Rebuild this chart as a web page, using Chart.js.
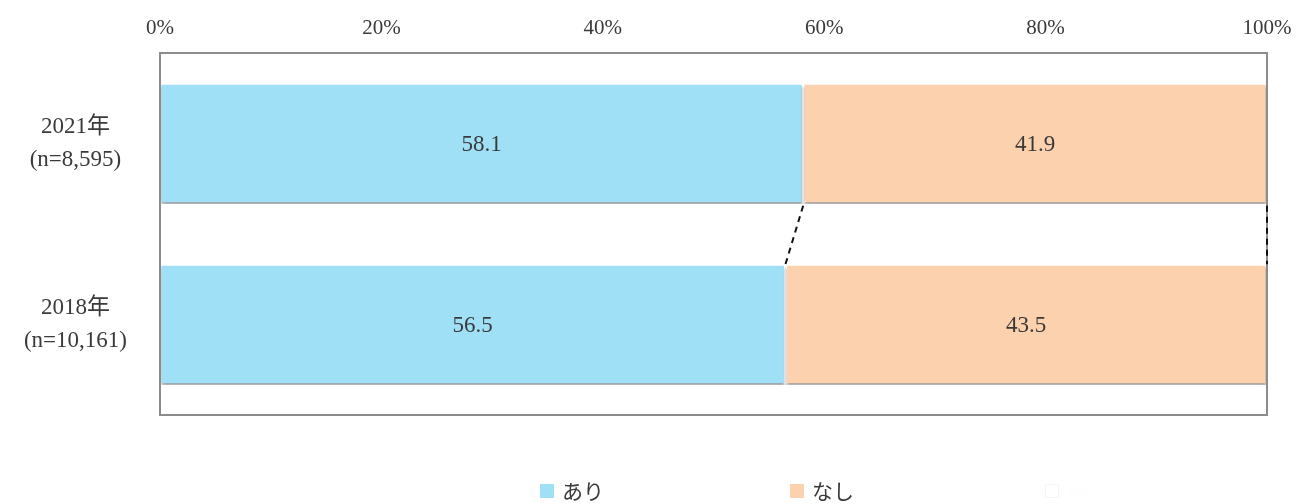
<!DOCTYPE html>
<html lang="ja">
<head>
<meta charset="utf-8">
<script src="https://cdn.jsdelivr.net/npm/chart.js@4.4.1/dist/chart.umd.min.js"></script>
<style>
  html, body { margin: 0; padding: 0; background: #fff; }
  #wrap { width: 1297px; height: 504px; }
</style>
</head>
<body>
<div id="wrap"><canvas id="chart" width="1297" height="504"></canvas></div>
<script>
// ===============================
// Data
// ===============================
const years = [["2021年", "(n=8,595)"], ["2018年", "(n=10,161)"]];
const ari = [58.1, 56.5];      // あり
const nashi = [41.9, 43.5];    // なし
const noAnswer = [0, 0];       // 無回答 (white, not visible)
const seriesNames = ["あり", "なし", "無回答"];

const serif = '"Liberation Serif", "Noto Sans CJK JP", serif';
const textColor = "#3a3a3a";

// ===============================
// Plugins
// ===============================
const barShadow = {
  id: "barShadow",
  beforeDatasetDraw(chart) {
    const ctx = chart.ctx;
    ctx.save();
    ctx.shadowColor = "rgba(0,0,0,0.4)";
    ctx.shadowOffsetY = 3;
    ctx.shadowBlur = 2;
  },
  afterDatasetDraw(chart) {
    chart.ctx.restore();
  },
};

const frameAndLabels = {
  id: "frameAndLabels",
  afterDatasetsDraw(chart) {
    const ctx = chart.ctx;
    const area = chart.chartArea;
    const xScale = chart.scales.x;

    // plot frame
    ctx.save();
    ctx.strokeStyle = "#8c8c8c";
    ctx.lineWidth = 2;
    ctx.strokeRect(area.left, area.top, area.right - area.left, area.bottom - area.top);
    ctx.restore();

    // dashed series lines between bars
    const m0 = chart.getDatasetMeta(0).data;
    const m1 = chart.getDatasetMeta(1).data;
    ctx.save();
    ctx.strokeStyle = "#111";
    ctx.lineWidth = 2;
    ctx.setLineDash([6, 5]);
    const cums = [
      [ari[0], ari[1]],
      [ari[0] + nashi[0], ari[1] + nashi[1]],
    ];
    cums.forEach((c) => {
      const top = m0[0].getProps(["y", "height"]);
      const bot = m0[1].getProps(["y", "height"]);
      ctx.beginPath();
      ctx.moveTo(xScale.getPixelForValue(c[0]), top.y + top.height / 2 + 2);
      ctx.lineTo(xScale.getPixelForValue(c[1]), bot.y - bot.height / 2);
      ctx.stroke();
    });
    ctx.restore();

    // value labels
    ctx.save();
    ctx.font = "23px " + serif;
    ctx.fillStyle = textColor;
    ctx.textAlign = "center";
    ctx.textBaseline = "middle";
    [m0, m1].forEach((meta, di) => {
      const vals = di === 0 ? ari : nashi;
      meta.forEach((bar, i) => {
        const p = bar.getCenterPoint();
        ctx.fillText(vals[i].toFixed(1), p.x, p.y + 1);
      });
    });
    ctx.restore();
  },
};

const customLegend = {
  id: "customLegend",
  afterDraw(chart, args, opts) {
    const ctx = chart.ctx;
    ctx.save();
    ctx.font = "21px " + '"Noto Sans CJK JP", sans-serif';
    ctx.textBaseline = "middle";
    ctx.textAlign = "left";
    chart.data.datasets.forEach((ds, i) => {
      const x = opts.xs[i];
      const y = opts.y;
      ctx.fillStyle = ds.backgroundColor;
      ctx.fillRect(x, y - 7, 14, 14);
      if (ds.legendBorder) {
        ctx.strokeStyle = ds.legendBorder;
        ctx.lineWidth = 1;
        ctx.strokeRect(x + 0.5, y - 6.5, 13, 13);
      }
      ctx.fillStyle = ds.legendText || textColor;
      ctx.fillText(ds.label, x + 22, y);
    });
    ctx.restore();
  },
};

// ===============================
// Chart
// ===============================
const ctx = document.getElementById("chart").getContext("2d");

new Chart(ctx, {
  type: "bar",
  data: {
    labels: years,
    datasets: [
      {
        label: seriesNames[0],
        data: ari,
        backgroundColor: "#a0e0f7",
        borderColor: "#ffffff",
        borderWidth: 1.5,
        borderSkipped: false,
      },
      {
        label: seriesNames[1],
        data: nashi,
        backgroundColor: "#fcd1ae",
        borderColor: "#ffffff",
        borderWidth: 1.5,
        borderSkipped: false,
      },
      {
        label: seriesNames[2],
        data: noAnswer,
        backgroundColor: "#ffffff",
        borderWidth: 0,
        legendBorder: "#f5f5f5",
        legendText: "#fefefe",
      },
    ],
  },
  options: {
    indexAxis: "y",
    responsive: false,
    animation: false,
    layout: { padding: { left: 0, right: 30, top: 0, bottom: 89 } },
    datasets: {
      bar: { categoryPercentage: 0.665, barPercentage: 1 },
    },
    scales: {
      x: {
        position: "top",
        stacked: true,
        min: 0,
        max: 100,
        grid: { display: false, drawTicks: false },
        border: { display: false },
        ticks: {
          stepSize: 20,
          padding: 12,
          color: textColor,
          font: { family: serif, size: 21 },
          callback: (v) => v + "%",
        },
        afterFit: (s) => {
          s.height = 53;
          s.paddingLeft = 0;
          s.paddingRight = 0;
        },
      },
      y: {
        stacked: true,
        grid: { display: false, drawTicks: false },
        border: { display: false },
        ticks: {
          crossAlign: "center",
          padding: 33,
          color: textColor,
          font: { family: serif, size: 23, lineHeight: 1.45 },
        },
        afterFit: (s) => {
          s.width = 160;
          s.paddingTop = 0;
          s.paddingBottom = 0;
        },
      },
    },
    plugins: {
      legend: { display: false },
      tooltip: { enabled: false },
      customLegend: { xs: [540, 790, 1045], y: 491 },
    },
  },
  plugins: [barShadow, frameAndLabels, customLegend],
});
</script>
</body>
</html>
